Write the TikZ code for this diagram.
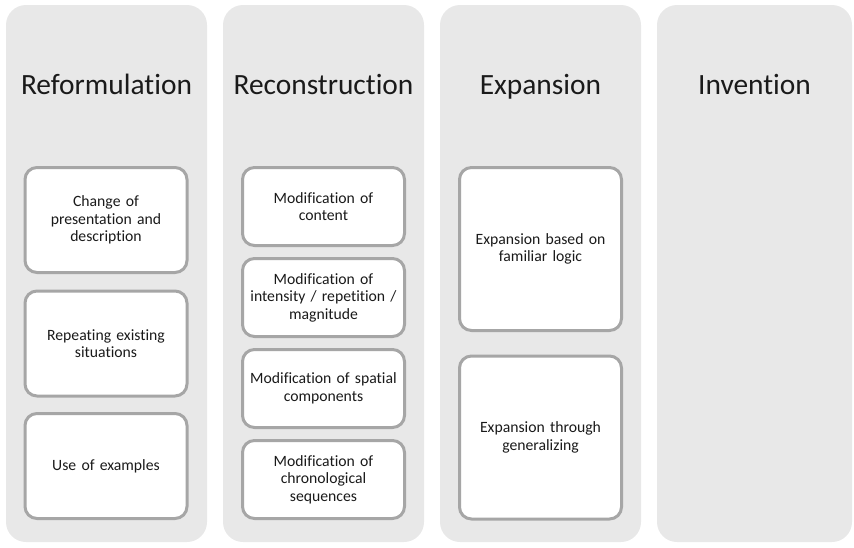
\documentclass[tikz,border=0pt]{standalone}
\usepackage{fontspec}
\setmainfont{Carlito}[Ligatures=NoCommon]

\definecolor{colfill}{HTML}{E8E8E8}
\definecolor{boxline}{HTML}{A6A6A6}
\definecolor{inktext}{HTML}{1A1A1A}

\begin{document}
\begin{tikzpicture}[
  x=1pt, y=-1pt,
  every node/.style={inner sep=0pt, text=inktext},
  column/.style={rectangle, rounded corners=20pt, fill=colfill, minimum width=201pt, minimum height=537pt},
  title/.style={anchor=base, font=\fontsize{29.4}{34}\selectfont},
  stage/.style={rectangle, rounded corners=12pt, draw=boxline, line width=3pt, fill=white,
    minimum width=162pt, text width=156pt, align=center,
    font=\fontsize{15.7}{17.5}\selectfont},
  short/.style={stage, minimum height=105pt},
  slim/.style={stage, minimum height=78pt},
  tall/.style={stage, minimum height=163pt}]

  \useasboundingbox (0,0) rectangle (854,547);

  % ---- columns ------------------------------------------------------------
  \node[column] (C1) at (106.5,273.5) {};
  \node[column] (C2) at (323.5,273.5) {};
  \node[column] (C3) at (540.5,273.5) {};
  \node[column, minimum width=195pt] (C4) at (754.5,273.5) {};

  % ---- headings -----------------------------------------------------------
  \node[title] (T1) at (106.5,94) {Reformulation};
  \node[title] (T2) at (323.5,94) {Reconstruction};
  \node[title] (T3) at (540.5,94) {Expansion};
  \node[title] (T4) at (754.5,94) {Invention};

  % ---- reformulation ------------------------------------------------------
  \node[short] (R1) at (106,220)   {Change of\\presentation and\\description};
  \node[short] (R2) at (106,343.5) {Repeating existing\\situations};
  \node[short] (R3) at (106,466)   {Use of examples};

  % ---- reconstruction -----------------------------------------------------
  \node[slim] (K1) at (323.5,206.5) {Modification of\\content};
  \node[slim] (K2) at (323.5,297.5) {Modification of\\intensity / repetition /\\magnitude};
  \node[slim] (K3) at (323.5,388.5) {Modification of spatial\\components};
  \node[slim] (K4) at (323.5,479.5) {Modification of\\chronological\\sequences};

  % ---- expansion ----------------------------------------------------------
  \node[tall] (E1) at (540.5,249)   {Expansion based on\\familiar logic};
  \node[tall] (E2) at (540.5,437.5) {Expansion through\\generalizing};
\end{tikzpicture}
\end{document}
